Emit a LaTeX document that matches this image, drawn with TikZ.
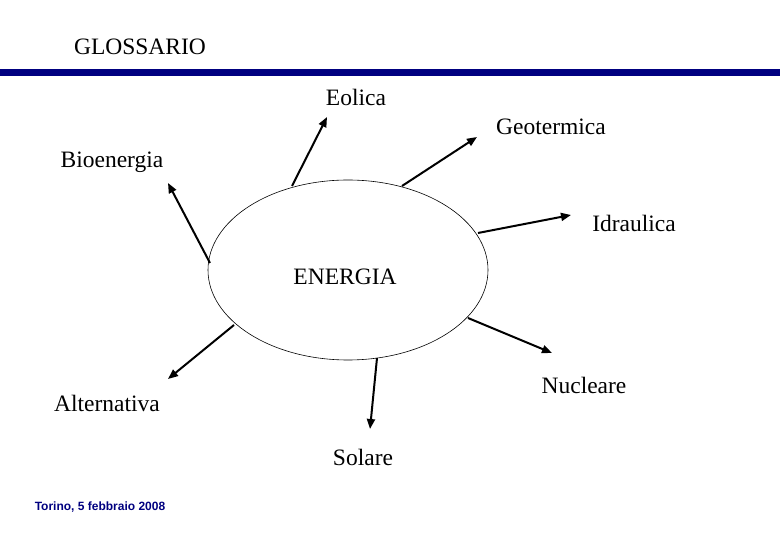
\documentclass[tikz,border=0pt]{standalone}
\usepackage{fontspec}
\setmainfont{Liberation Serif}
\setsansfont{Liberation Sans}
\usetikzlibrary{arrows.meta,shapes.geometric}
\definecolor{navy}{RGB}{0,0,128}
\begin{document}
\begin{tikzpicture}[x=1pt,y=-1pt,
  lbl/.style={font=\fontsize{23.5}{28}\selectfont, inner sep=0pt},
  arr/.style={line width=2pt, -{Triangle[length=10pt,width=8pt]}}]
\useasboundingbox (0,0) rectangle (780,540);
\fill[navy] (0,69) rectangle (780,76);
\node[lbl] (title) at (140,47) {GLOSSARIO};
\node[draw, ellipse, line width=0.6pt, minimum width=280pt, minimum height=180pt, inner sep=0pt] (e) at (348,270) {};
\node[lbl] (energia) at (345,277) {ENERGIA};
\node[lbl] (eolica) at (356,97) {Eolica};
\node[lbl] (geo) at (551,127) {Geotermica};
\node[lbl] (bio) at (112,162) {Bioenergia};
\node[lbl] (idr) at (634,223) {Idraulica};
\node[lbl] (nuc) at (584,385) {Nucleare};
\node[lbl] (sol) at (363,457) {Solare};
\node[lbl] (alt) at (107,403) {Alternativa};
\coordinate (s1) at (292,186); \coordinate (t1) at (327,117);
\coordinate (s2) at (402,186); \coordinate (t2) at (477,137);
\coordinate (s3) at (210,263); \coordinate (t3) at (168,183);
\coordinate (s4) at (478,233); \coordinate (t4) at (571,215);
\coordinate (s5) at (468,318); \coordinate (t5) at (552,353);
\coordinate (s6) at (377,358); \coordinate (t6) at (370,429);
\coordinate (s7) at (234,325); \coordinate (t7) at (168,379);
\foreach \i in {1,...,7} { \draw[arr] (s\i) -- (t\i); }
\node[font=\sffamily\bfseries\fontsize{12}{14}\selectfont, text=navy, inner sep=0pt] (foot) at (100,507) {Torino, 5 febbraio 2008};
\end{tikzpicture}
\end{document}
